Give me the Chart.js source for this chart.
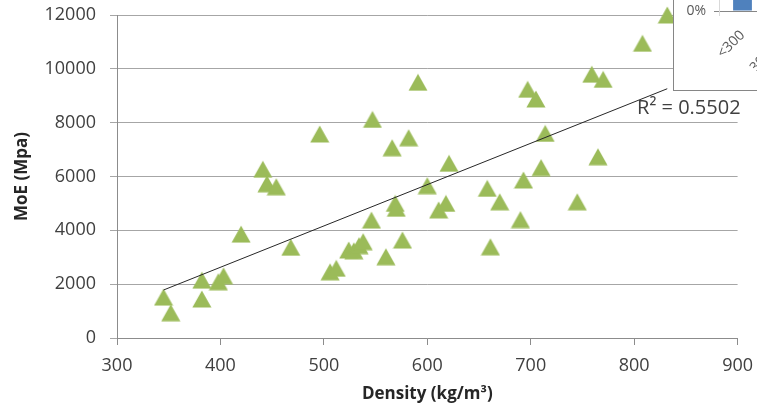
<!DOCTYPE html>
<html>
<head>
<meta charset="utf-8">
<script src="https://cdn.jsdelivr.net/npm/chart.js@4.4.0/dist/chart.umd.min.js"></script>
<style>
  html, body { margin: 0; padding: 0; background: #fff; }
  #wrap { position: relative; width: 757px; height: 409px; overflow: hidden; }
  #inset {
    position: absolute; left: 673px; top: 0; width: 84px; height: 91px;
    box-sizing: border-box; border-left: 1px solid #868686; border-bottom: 1px solid #868686;
    background: #fff; overflow: hidden;
  }
  #mini { position: absolute; left: 0; top: -89px; }
</style>
</head>
<body>
<div id="wrap">
  <canvas id="main" width="757" height="409"></canvas>
  <div id="inset"><canvas id="mini" width="186" height="160"></canvas></div>
</div>
<script>
// density (kg/m3) vs MoE (Mpa)
const density = [345, 352, 382, 382, 398, 403, 420, 441, 445, 454, 468, 496, 506, 512, 524, 529, 534, 538,
  546, 547, 560, 566, 569, 570, 576, 582, 591, 600, 611, 618, 621, 658, 661, 670, 690, 693, 697, 705,
  710, 714, 745, 759, 765, 770, 808, 832];
const moe = [1520, 940, 2150, 1450, 2090, 2310, 3860, 6270, 5730, 5620, 3370, 7580, 2460, 2590, 3270, 3240, 3430, 3580,
  4380, 8120, 3020, 7070, 5000, 4820, 3640, 7440, 9500, 5660, 4760, 5000, 6490, 5560, 3390, 5060, 4400, 5870, 9240, 8880,
  6330, 7600, 5060, 9800, 6735, 9610, 10950, 12000];

// linear trend line ends
const trendX = [345, 832];
const trendY = [1783, 9261];
const r2Text = 'R² = 0.5502';

// overlapping inset chart (only its corner shows)
const binLabels = ['<300', '300-400', '400-500'];
const binShare = [5, 12, 18];

const FONT = '"Open Sans", "Liberation Sans", sans-serif';

// excel-like triangle marker, centred on its box
function makeTriangle() {
  const c = document.createElement('canvas');
  c.width = 20; c.height = 18;
  const g = c.getContext('2d');
  g.fillStyle = '#9bbb59';
  g.beginPath();
  g.moveTo(10, 0.5);
  g.lineTo(19.5, 17.5);
  g.lineTo(0.5, 17.5);
  g.closePath();
  g.fill();
  return c;
}

// drop the label overhang chart.js reserves, so the plot box stays put
function noPad(s) {
  s.paddingTop = 0; s.paddingBottom = 0; s.paddingLeft = 0; s.paddingRight = 0;
}

const r2Label = {
  id: 'r2Label',
  afterDatasetsDraw(chart) {
    const { ctx, chartArea } = chart;
    ctx.save();
    ctx.font = '20px ' + FONT;
    ctx.fillStyle = '#404040';
    ctx.textAlign = 'right';
    ctx.textBaseline = 'middle';
    ctx.fillText(r2Text, chartArea.right + 3, chartArea.top + 93);
    ctx.restore();
  }
};

const tri = makeTriangle();

new Chart(document.getElementById('main'), {
  type: 'scatter',
  data: {
    datasets: [
      {
        type: 'line',
        data: trendX.map((x, i) => ({ x, y: trendY[i] })),
        borderColor: '#262626',
        borderWidth: 1,
        pointRadius: 0,
        fill: false,
        order: 0
      },
      {
        data: density.map((x, i) => ({ x, y: moe[i] })),
        pointStyle: tri,
        pointRadius: 10,
        clip: false,
        order: 1
      }
    ]
  },
  options: {
    responsive: false,
    devicePixelRatio: 1,
    animation: false,
    layout: { padding: { left: 0, right: 19.4, top: 15, bottom: 0 } },
    plugins: { legend: { display: false }, tooltip: { enabled: false } },
    scales: {
      x: {
        type: 'linear',
        min: 300,
        max: 900,
        afterFit(s) { s.height = 71; noPad(s); },
        ticks: { stepSize: 100, padding: 10, color: '#404040', font: { family: FONT, size: 18 }, callback: v => String(v) },
        grid: { drawOnChartArea: false, tickLength: 7, color: '#8c8c8c' },
        border: { color: '#8c8c8c' },
        title: { display: true, text: 'Density (kg/m³)', color: '#262626', font: { family: FONT, size: 17, weight: 'bold' }, padding: { top: 0, bottom: 5 } }
      },
      y: {
        min: 0,
        max: 12000,
        afterFit(s) { s.width = 117; noPad(s); },
        ticks: { stepSize: 2000, padding: 14, color: '#404040', font: { family: FONT, size: 18 }, callback: v => String(v) },
        grid: { color: '#a6a6a6', tickLength: 7 },
        border: { color: '#8c8c8c' },
        title: { display: true, text: 'MoE (Mpa)', color: '#262626', font: { family: FONT, size: 17, weight: 'bold' }, padding: { top: 12, bottom: 0 } }
      }
    }
  },
  plugins: [r2Label]
});

new Chart(document.getElementById('mini'), {
  type: 'bar',
  data: {
    labels: binLabels,
    datasets: [{ data: binShare, backgroundColor: '#4f81bd', barPercentage: 0.4, categoryPercentage: 1 }]
  },
  options: {
    responsive: false,
    devicePixelRatio: 1,
    animation: false,
    layout: { padding: 0 },
    plugins: { legend: { display: false }, tooltip: { enabled: false } },
    scales: {
      x: {
        afterFit(s) { s.height = 60; noPad(s); },
        ticks: { autoSkip: false, minRotation: 45, maxRotation: 45, padding: 11, color: '#595959', font: { family: FONT, size: 14 } },
        grid: { drawOnChartArea: false, tickLength: 5, color: '#d9d9d9' },
        border: { color: '#868686' }
      },
      y: {
        min: 0,
        max: 20,
        afterFit(s) { s.width = 45; noPad(s); },
        ticks: { stepSize: 10, padding: 8, color: '#595959', font: { family: FONT, size: 14 }, callback: v => v + '%' },
        grid: { drawOnChartArea: false, tickLength: 5, color: '#868686' },
        border: { color: '#d9d9d9' }
      }
    }
  }
});
</script>
</body>
</html>
